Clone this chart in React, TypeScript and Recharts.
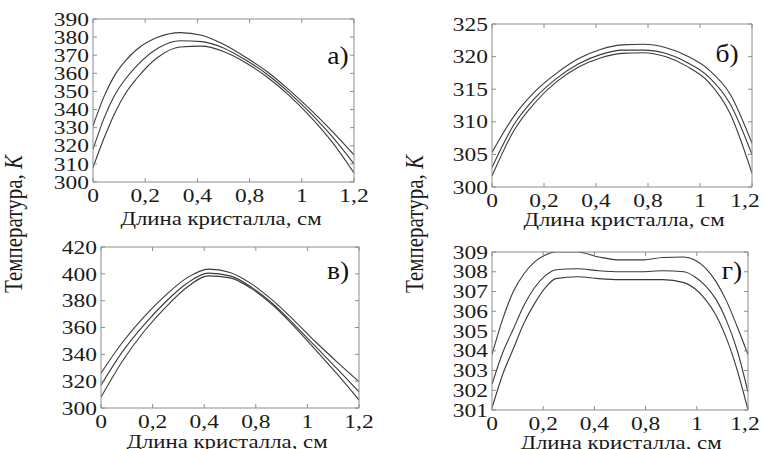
import React from 'react';
import { LineChart, Line, XAxis, YAxis } from 'recharts';

const FONT = '"Liberation Serif", "Times New Roman", serif';
const X_TICK_LABELS = ['0', '0,2', '0,4', '0,8', '1', '1,2'];
const X_MAX = 1.2;
const X_TITLE = 'Длина кристалла, см';
const Y_TITLE = 'Температура, ';
const Y_UNIT = 'K';

// Panel а)
const A_X = [0, 0.05, 0.1, 0.15, 0.2, 0.3, 0.4, 0.5, 0.6, 0.7, 0.8, 0.9, 1.0, 1.1, 1.2];
const A_TOP = [331, 347, 359, 367, 373, 380, 382.5, 381, 376, 369, 361, 351, 340, 328, 315];
const A_MID = [318, 335, 348, 357, 364, 374, 378, 377.5, 374, 367.5, 359.5, 349.5, 338, 325, 310];
const A_BOT = [308, 324, 338, 349, 357, 369, 374.5, 375, 372, 366, 358, 348, 336, 322, 305];
const A_Y_TICKS = [300, 310, 320, 330, 340, 350, 360, 370, 380, 390];

// Panel б)
const B_X = [0, 0.1, 0.2, 0.3, 0.4, 0.5, 0.6, 0.7, 0.8, 0.9, 1.0, 1.1, 1.2];
const B_TOP = [305.3, 310.8, 314.7, 317.5, 319.7, 321.1, 321.8, 321.9, 321.4, 320.1, 318, 314.2, 306.7];
const B_MID = [303.0, 309.5, 313.7, 316.7, 318.9, 320.3, 321.0, 321.0, 320.5, 319.1, 316.9, 312.7, 305];
const B_BOT = [301.7, 308.6, 313.0, 316.2, 318.4, 319.8, 320.5, 320.6, 320.0, 318.5, 316.1, 311.2, 302.1];
const B_Y_TICKS = [300, 305, 310, 315, 320, 325];

// Panel в)
const C_X = [0, 0.1, 0.2, 0.3, 0.4, 0.5, 0.6, 0.7, 0.8, 0.9, 1.0, 1.1, 1.2];
const C_TOP = [326, 349, 368, 384, 397, 403.5, 401, 392.5, 380, 365, 349, 334, 319.6];
const C_MID = [317, 342, 362, 379, 393, 400.5, 398.5, 390, 377.5, 362, 345.5, 329, 312];
const C_BOT = [308, 335, 357, 375, 390, 398.5, 397, 389, 376.5, 360.5, 343, 325, 306];
const C_Y_TICKS = [300, 320, 340, 360, 380, 400, 420];

// Panel г)
const D_X = [0, 0.05, 0.1, 0.15, 0.2, 0.25, 0.3, 0.4, 0.5, 0.6, 0.7, 0.8, 0.9, 0.95, 1.0, 1.05, 1.1, 1.15, 1.2];
const D_TOP = [303.8, 305.6, 307.0, 307.9, 308.5, 308.85, 309.0, 309.0, 308.75, 308.6, 308.6, 308.72, 308.75, 308.6, 308.2, 307.5, 306.5, 305.2, 303.8];
const D_MID = [302.3, 303.9, 305.1, 306.3, 307.2, 307.8, 308.1, 308.15, 308.05, 308.0, 308.0, 308.05, 308.0, 307.75, 307.3, 306.6, 305.5, 304.0, 301.9];
const D_BOT = [301.1, 302.8, 304.1, 305.4, 306.4, 307.2, 307.65, 307.75, 307.65, 307.6, 307.6, 307.6, 307.45, 307.15, 306.6, 305.8, 304.6, 303.0, 301.0];
const D_Y_TICKS = [301, 302, 303, 304, 305, 306, 307, 308, 309];

const X_TICKS = X_TICK_LABELS.map((_, i) => (i * X_MAX) / (X_TICK_LABELS.length - 1));

const SX = 1.27;
const TICK_FS = 18.5;
const PAGE_W = 764;

const YTick = (p: any) => (
  <g transform={`translate(${p.x},${p.y})`}>
    <text transform={`scale(${SX},1)`} textAnchor="end" dy="0.36em" fontFamily={FONT} fontSize={TICK_FS} fill="#1a1a1a">
      {p.payload.value}
    </text>
  </g>
);

const makeXTick = (maxX: number) => (p: any) => (
  <g transform={`translate(${Math.min(p.x, maxX)},${p.y})`}>
    <text transform={`scale(${SX},1)`} textAnchor="middle" dy="0.36em" fontFamily={FONT} fontSize={TICK_FS} fill="#1a1a1a">
      {X_TICK_LABELS[p.index]}
    </text>
  </g>
);

const EmptyTick = () => <g />;

type Box = { l: number; t: number; r: number; b: number };

function Panel({ xs, top, mid, bot, yTicks, box }: { xs: number[]; top: number[]; mid: number[]; bot: number[]; yTicks: number[]; box: Box }) {
  const data = xs.map((x, i) => ({ x, top: top[i], mid: mid[i], bot: bot[i] }));
  const LW = 60, RW = 10, RM = 25, TH = 10, BH = 30;
  const w = box.r - box.l + LW + RW + RM;
  const h = box.b - box.t + TH + BH;
  const yDomain = [yTicks[0], yTicks[yTicks.length - 1]];
  const frame = '#8c8c8c';
  const lineColor = '#3a3a3a';
  const chartLeft = box.l - LW;
  const xTick = makeXTick(PAGE_W - 19 - chartLeft);
  return (
    <div style={{ position: 'absolute', left: chartLeft, top: box.t - TH }}>
      <LineChart width={w} height={h} data={data} margin={{ top: 0, right: RM, bottom: 0, left: 0 }}>
        <XAxis xAxisId="b" dataKey="x" type="number" domain={[0, X_MAX]} ticks={X_TICKS} interval={0}
          allowDataOverflow height={BH} tickSize={-4} tickMargin={17.5} tick={xTick} stroke={frame} />
        <XAxis xAxisId="t" orientation="top" dataKey="x" type="number" domain={[0, X_MAX]} ticks={X_TICKS} interval={0}
          allowDataOverflow height={TH} tickSize={-4} tick={EmptyTick} stroke={frame} />
        <YAxis yAxisId="l" type="number" domain={yDomain} ticks={yTicks} interval={0}
          allowDataOverflow width={LW} tickSize={-4} tickMargin={8} tick={YTick} stroke={frame} />
        <YAxis yAxisId="r" orientation="right" type="number" domain={yDomain} ticks={yTicks} interval={0}
          allowDataOverflow width={RW} tickSize={-4} tick={EmptyTick} stroke={frame} />
        <Line xAxisId="b" yAxisId="l" dataKey="top" type="monotone" stroke={lineColor} strokeWidth={1.1} dot={false} isAnimationActive={false} />
        <Line xAxisId="b" yAxisId="l" dataKey="mid" type="monotone" stroke={lineColor} strokeWidth={1.1} dot={false} isAnimationActive={false} />
        <Line xAxisId="b" yAxisId="l" dataKey="bot" type="monotone" stroke={lineColor} strokeWidth={1.1} dot={false} isAnimationActive={false} />
      </LineChart>
    </div>
  );
}

const BOX_A = { l: 93, t: 19, r: 354, b: 182 };
const BOX_B = { l: 492, t: 24, r: 752, b: 187 };
const BOX_C = { l: 101, t: 247, r: 359, b: 408 };
const BOX_D = { l: 492, t: 252, r: 748, b: 410 };

const TITLE_POS = [
  { x: 221, y: 218 },
  { x: 624, y: 219 },
  { x: 227, y: 441 },
  { x: 621, y: 442 },
];
const LETTERS = [
  { t: 'а)', x: 338, y: 55 },
  { t: 'б)', x: 727, y: 53 },
  { t: 'в)', x: 338, y: 270 },
  { t: 'г)', x: 732, y: 270 },
];
const YLAB_POS = [
  { x: 13, y: 224 },
  { x: 414, y: 224 },
];

export default function App() {
  return (
    <div style={{ position: 'absolute', left: 0, top: 0, width: PAGE_W, height: 449, background: '#fff', overflow: 'hidden' }}>
      <Panel xs={A_X} top={A_TOP} mid={A_MID} bot={A_BOT} yTicks={A_Y_TICKS} box={BOX_A} />
      <Panel xs={B_X} top={B_TOP} mid={B_MID} bot={B_BOT} yTicks={B_Y_TICKS} box={BOX_B} />
      <Panel xs={C_X} top={C_TOP} mid={C_MID} bot={C_BOT} yTicks={C_Y_TICKS} box={BOX_C} />
      <Panel xs={D_X} top={D_TOP} mid={D_MID} bot={D_BOT} yTicks={D_Y_TICKS} box={BOX_D} />
      <svg width={PAGE_W} height={449} style={{ position: 'absolute', left: 0, top: 0, pointerEvents: 'none' }}>
        {TITLE_POS.map((p, i) => (
          <g key={'t' + i} transform={`translate(${p.x},${p.y})`}>
            <text transform={`scale(1.2,1)`} textAnchor="middle" dy="0.36em" fontFamily={FONT} fontSize={19} fill="#1a1a1a">
              {X_TITLE}
            </text>
          </g>
        ))}
        {LETTERS.map((p, i) => (
          <g key={'l' + i} transform={`translate(${p.x},${p.y})`}>
            <text transform={`scale(1.1,1)`} textAnchor="middle" dy="0.36em" fontFamily={FONT} fontSize={25} fill="#111">
              {p.t}
            </text>
          </g>
        ))}
        {YLAB_POS.map((p, i) => (
          <g key={'y' + i} transform={`translate(${p.x},${p.y}) scale(1.2,1) rotate(-90)`}>
            <text textAnchor="middle" dy="0.36em" fontFamily={FONT} fontSize={21} fill="#1a1a1a">
              {Y_TITLE}
              <tspan fontStyle="italic">{Y_UNIT}</tspan>
            </text>
          </g>
        ))}
      </svg>
    </div>
  );
}
